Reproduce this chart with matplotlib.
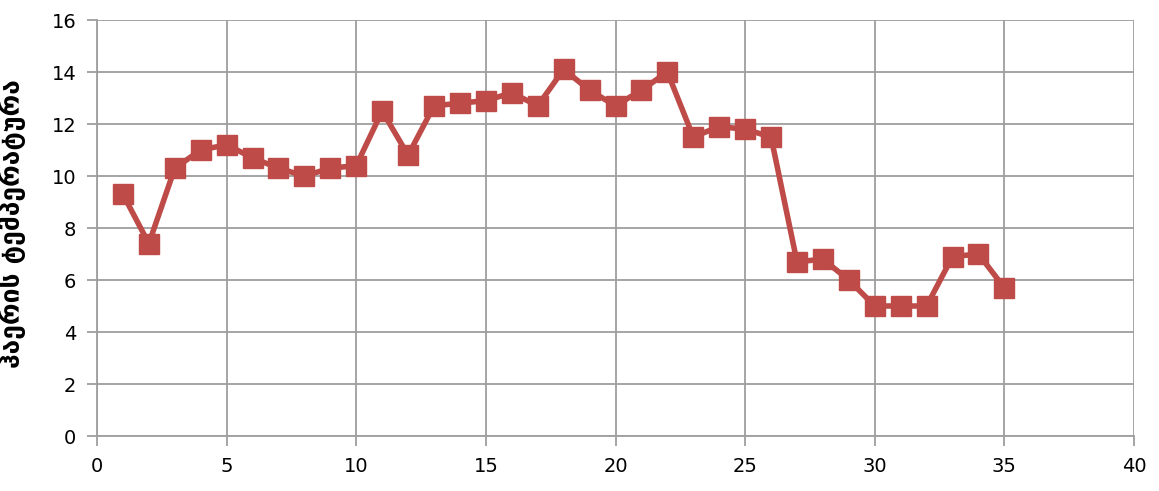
import matplotlib
matplotlib.use('Agg')
import matplotlib.pyplot as plt

# დღეები და ჰაერის ტემპერატურა
dghe = list(range(1, 36))
temp = [9.3, 7.4, 10.3, 11.0, 11.2, 10.7, 10.3, 10.0, 10.3, 10.4,
        12.5, 10.8, 12.7, 12.8, 12.9, 13.2, 12.7, 14.1, 13.3, 12.7,
        13.3, 14.0, 11.5, 11.9, 11.8, 11.5, 6.7, 6.8, 6.0, 5.0,
        5.0, 5.0, 6.9, 7.0, 5.7]
xticks = [0, 5, 10, 15, 20, 25, 30, 35, 40]
yticks = [0, 2, 4, 6, 8, 10, 12, 14, 16]

grey = '#9e9e9e'
fig = plt.figure(figsize=(11.59, 4.91), dpi=100)
ax = fig.add_axes([97/1159, 1-436/491, (1134-97)/1159, (436-20)/491])

ax.plot(dghe, temp, color='#BE4B48', lw=4, marker='s', ms=14,
        markeredgecolor='#BE4B48', zorder=3)

ax.set_xlim(0, 40)
ax.set_ylim(0, 16)
ax.set_xticks(xticks)
ax.set_yticks(yticks)
ax.grid(True, color=grey, lw=1.3)
for s in ['top', 'right']:
    ax.spines[s].set_visible(False)
for s in ['left', 'bottom']:
    ax.spines[s].set_color(grey)
    ax.spines[s].set_linewidth(1.3)
ax.tick_params(colors=grey, labelcolor='black', labelsize=14, length=7, width=1.3, pad=8)

ax.set_ylabel('ჰაერის ტემპერატურა', fontsize=19, fontweight='bold',
              family=['DejaVu Sans'])
ax.yaxis.set_label_coords(-0.068, 0.51)

fig.savefig('out.png', dpi=100)
